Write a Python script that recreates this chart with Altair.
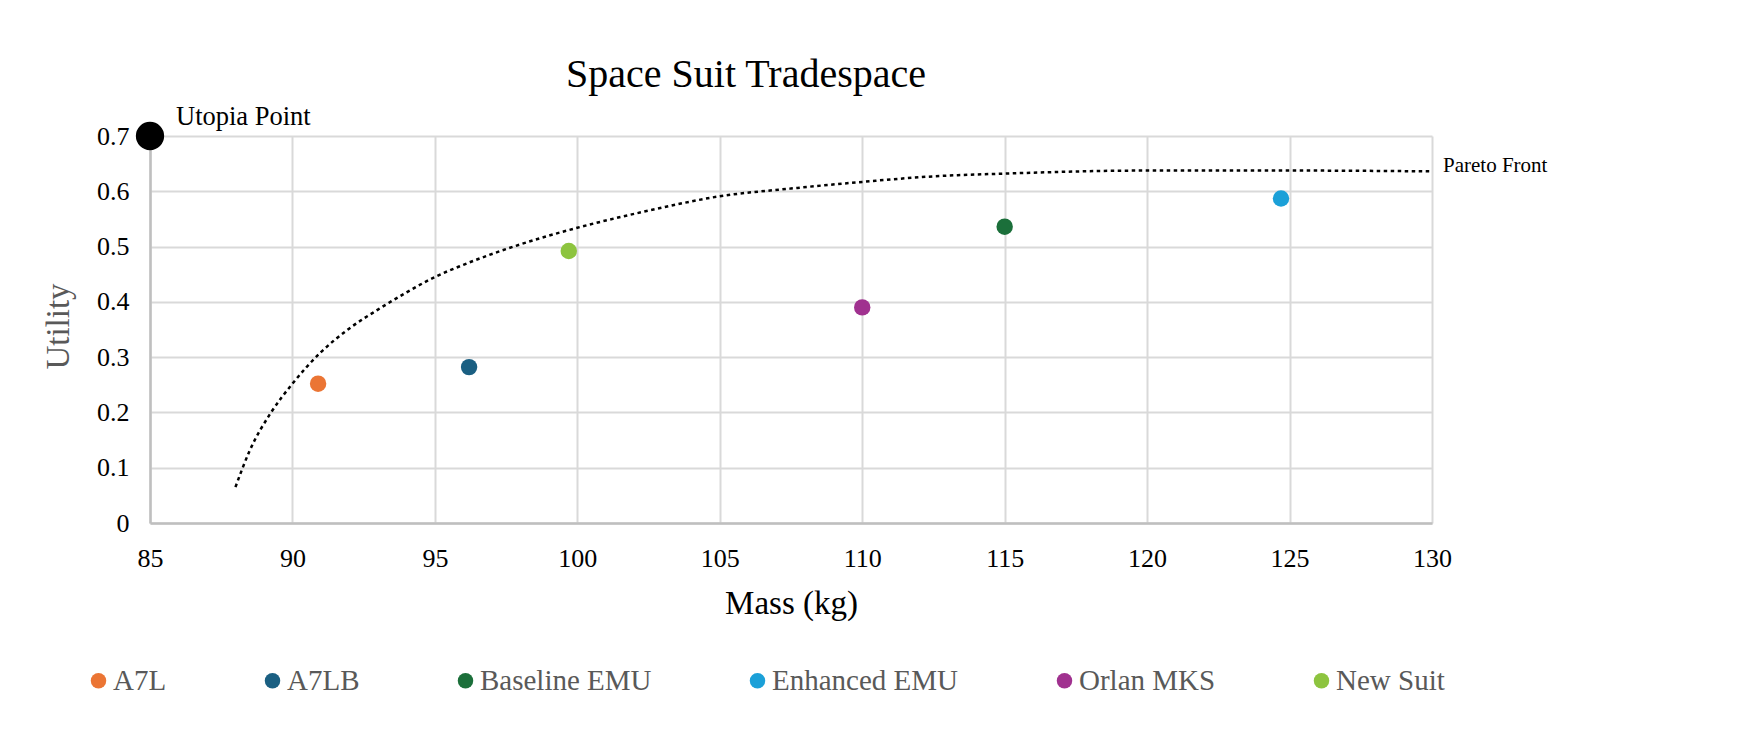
import altair as alt
import pandas as pd

# ---- data ----
suits = ["A7L", "A7LB", "Baseline EMU", "Enhanced EMU", "Orlan MKS", "New Suit"]
suit_mass = [90.9, 96.2, 115.0, 124.7, 110.0, 99.7]
suit_utility = [0.252, 0.282, 0.536, 0.587, 0.390, 0.492]
suit_colors = ["#EB7534", "#1A5F82", "#1B6F3A", "#1BA0D8", "#A0318F", "#8DC43F"]

front_mass = [88, 88.5, 89.25, 90, 91, 92, 93, 94, 95, 96, 98, 100, 102.5, 105,
              107.5, 110, 112.5, 115, 120, 125, 130]
front_utility = [0.065, 0.131, 0.200, 0.252, 0.309, 0.352, 0.386, 0.417, 0.445, 0.467,
                 0.504, 0.534, 0.565, 0.591, 0.605, 0.617, 0.627, 0.632, 0.6375, 0.6375, 0.636]

utopia_mass = [85]
utopia_utility = [0.7]
utopia_label = ["Utopia Point"]
front_label = ["Pareto Front"]

x_ticks = [85, 90, 95, 100, 105, 110, 115, 120, 125, 130]
y_ticks = [0, 0.1, 0.2, 0.3, 0.4, 0.5, 0.6, 0.7]

FONT = "Liberation Serif"

suits_df = pd.DataFrame({"suit": suits, "mass": suit_mass, "utility": suit_utility})
front_df = pd.DataFrame({"mass": front_mass, "utility": front_utility})
utopia_df = pd.DataFrame({"mass": utopia_mass, "utility": utopia_utility, "label": utopia_label})
front_lab_df = pd.DataFrame({"mass": [front_mass[-1]], "utility": [front_utility[-1]], "label": front_label})

xscale = alt.Scale(domain=[85, 130], nice=False, zero=False)
yscale = alt.Scale(domain=[0, 0.7], nice=False)

x_axis = alt.Axis(values=x_ticks, title="Mass (kg)", labelPadding=22, labelFlush=False,
                  labelOverlap=False, titleY=80, titleBaseline="middle", titleColor="black")
y_axis = alt.Axis(values=y_ticks, format=".1~f", title="Utility", labelPadding=21,
                  labelFlush=False, labelOverlap=False,
                  titleX=-92, titleY=190, titleBaseline="middle", titleColor="#595959")

front = alt.Chart(front_df).mark_line(
    color="black", strokeWidth=2.5, strokeDash=[3.5, 3.5], interpolate="monotone"
).encode(
    x=alt.X("mass:Q", scale=xscale, axis=x_axis),
    y=alt.Y("utility:Q", scale=yscale, axis=y_axis),
)

points = alt.Chart(suits_df).mark_circle(size=270, opacity=1).encode(
    x=alt.X("mass:Q", scale=xscale),
    y=alt.Y("utility:Q", scale=yscale),
    color=alt.Color(
        "suit:N",
        scale=alt.Scale(domain=suits, range=suit_colors),
        legend=alt.Legend(
            title=None, orient="none", direction="horizontal",
            legendX=-66, legendY=530, columnPadding=91,
            symbolType="circle", symbolSize=240, symbolStrokeWidth=0, symbolOpacity=1,
            labelFont=FONT, labelFontSize=29, labelColor="#595959",
            labelOffset=0, labelLimit=600,
        ),
    ),
)

utopia = alt.Chart(utopia_df).mark_circle(size=800, color="black", opacity=1).encode(
    x=alt.X("mass:Q", scale=xscale),
    y=alt.Y("utility:Q", scale=yscale),
)

utopia_text = alt.Chart(utopia_df).mark_text(
    align="left", baseline="middle", dx=26, dy=-19, font=FONT, fontSize=26.5, color="black"
).encode(
    x=alt.X("mass:Q", scale=xscale),
    y=alt.Y("utility:Q", scale=yscale),
    text="label:N",
)

front_text = alt.Chart(front_lab_df).mark_text(
    align="left", baseline="middle", dx=11, dy=-5, font=FONT, fontSize=21, color="black"
).encode(
    x=alt.X("mass:Q", scale=xscale),
    y=alt.Y("utility:Q", scale=yscale),
    text="label:N",
)

chart = alt.layer(front, points, utopia, utopia_text, front_text).properties(
    width=1282, height=387,
    autosize=alt.AutoSizeParams(type="none"),
    padding={"left": 150, "top": 136, "right": 324, "bottom": 219},
    background="white",
    title=alt.Title("Space Suit Tradespace", font=FONT, fontSize=40, fontWeight="normal",
                    color="black", anchor="middle", dx=-45, dy=-5),
).configure_view(stroke=None).configure_axis(
    domainColor="#BFBFBF", domainWidth=2.5, ticks=False,
    gridColor="#D9D9D9", gridWidth=2,
    labelFont=FONT, labelFontSize=26, labelColor="black",
    titleFont=FONT, titleFontSize=33, titleFontWeight="normal",
)

chart.save("out.html", embed_options={"renderer": "svg", "actions": False})
